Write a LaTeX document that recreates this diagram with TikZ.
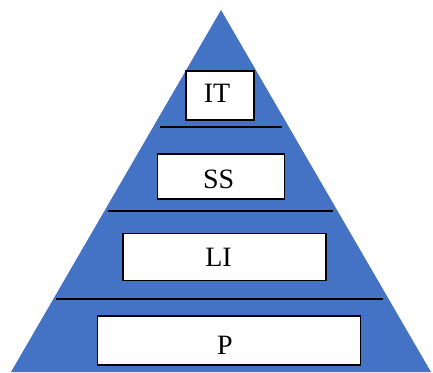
\documentclass[tikz,border=0pt]{standalone}
\usepackage{fontspec}
\setmainfont{Liberation Serif}
\definecolor{pyrblue}{HTML}{4472C4}
\begin{document}
\begin{tikzpicture}[x=1pt,y=-1pt,
  layerbox/.style={draw=black, line width=1.5pt, fill=white, inner sep=0pt},
  layertext/.style={inner sep=0pt, anchor=center, font=\fontsize{28}{28}\selectfont},
  divider/.style={line width=2pt, draw=black}]
\useasboundingbox (0,0) rectangle (433,372);
\coordinate (apex) at (221,10);
\coordinate (bl) at (11,372);
\coordinate (br) at (431,372);
\fill[pyrblue] (apex) -- (br) -- (bl) -- cycle;
\node[layerbox, minimum width=68pt, minimum height=49pt] (it) at (220,95.5) {};
\node[layerbox, minimum width=127pt, minimum height=45pt] (ss) at (221,176.7) {};
\node[layerbox, minimum width=203pt, minimum height=47pt] (li) at (224.7,256.8) {};
\node[layerbox, minimum width=263pt, minimum height=49pt] (p) at (229.2,340.5) {};
\node[layertext] (itt) at (217,93.5) {IT};
\node[layertext] (sst) at (218.7,179) {SS};
\node[layertext] (lit) at (218.5,257.5) {LI};
\node[layertext] (pt) at (225,345) {P};
\coordinate (d1l) at (160,127); \coordinate (d1r) at (282,127);
\coordinate (d2l) at (108,211); \coordinate (d2r) at (333,211);
\coordinate (d3l) at (56,298.5); \coordinate (d3r) at (383,298.5);
\draw[divider] (d1l) -- (d1r);
\draw[divider] (d2l) -- (d2r);
\draw[divider] (d3l) -- (d3r);
\end{tikzpicture}
\end{document}
